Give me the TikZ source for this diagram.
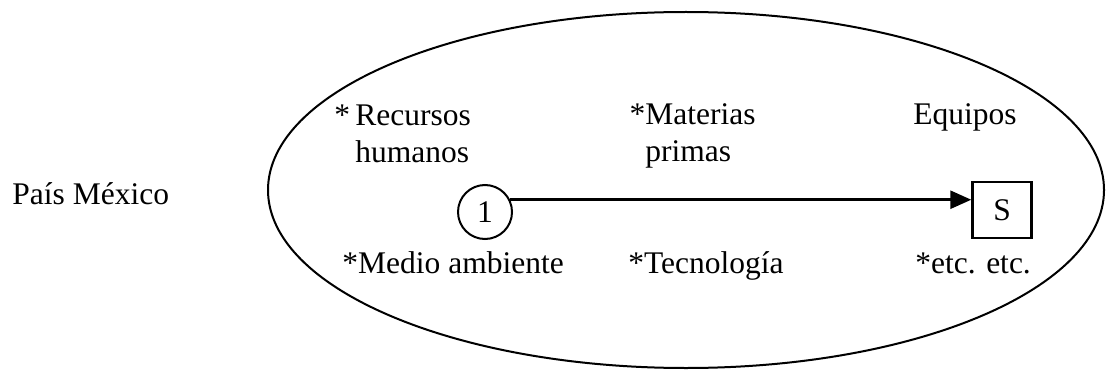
\documentclass[tikz,border=0pt]{standalone}
\usepackage{fontspec}
\setmainfont{Liberation Serif}
\usepackage{tikz}
\usetikzlibrary{arrows.meta, positioning}

\begin{document}
\begin{tikzpicture}[
  x=0.5pt, y=0.5pt,
  lbl/.style  = {font=\fontsize{15.75}{18}\selectfont, inner sep=0pt,
                 anchor=base west, align=left},
  ring/.style = {circle, draw, line width=1pt, minimum size=27pt,
                 inner sep=0pt, font=\fontsize{15.75}{18}\selectfont},
  sbox/.style = {rectangle, draw, line width=1.2pt, minimum width=29.5pt,
                 minimum height=28pt, inner sep=0pt,
                 font=\fontsize{15.75}{18}\selectfont},
  darr/.style = {-{Triangle[length=10.5pt,width=9pt]}, line width=1.3pt},
]
\useasboundingbox (0,0) rectangle (1106,370);

%% ── País ────────────────────────────────────────────────────────────────────
\node[lbl] (pais) at (12,166) {País México};

%% ── Ambiente ────────────────────────────────────────────────────────────────
\draw[line width=1pt] (686,180) ellipse [x radius=209pt, y radius=89pt];

% multi-line labels: base = last line
\node[lbl] (rh)  at (355,208) {\llap{*\,}Recursos\\humanos};
\node[lbl] (mp)  at (645,209) {\llap{*}Materias\\primas};
\node[lbl] (eq)  at (913,245) {Equipos};

\node[lbl] (ma)  at (342,97)  {*Medio ambiente};
\node[lbl] (tec) at (628,97)  {*Tecnología};
\node[lbl] (etc) at (915,97)  {*etc. etc.};

%% ── Sistema ─────────────────────────────────────────────────────────────────
\node[ring] (one) at (485,158) {1};
\node[sbox] (S)   at (1002,160) {S};

\draw[darr] (one.26) -- (one.26 -| S.west);

\end{tikzpicture}
\end{document}
